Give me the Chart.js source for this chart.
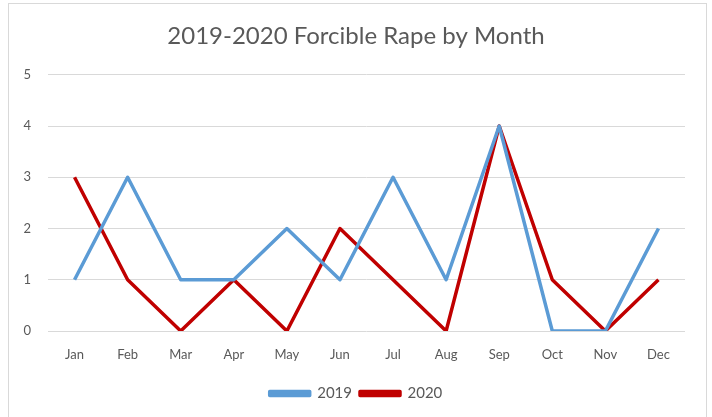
<!DOCTYPE html>
<html lang="en">
<head>
    <meta charset="UTF-8">
    <title>2019-2020 Forcible Rape by Month</title>
    <script src="https://cdn.jsdelivr.net/npm/chart.js"></script>
    <style>
        body {
            margin: 0;
            background: #ffffff;
            font-family: Lato, "Open Sans", sans-serif;
        }
        .frame {
            position: absolute;
            left: 8px;
            top: 3px;
            width: 697px;
            height: 420px;
            border: 1px solid #d9d9d9;
        }
        .wrap {
            position: absolute;
            left: 0;
            top: 0;
            width: 712px;
            height: 417px;
        }
    </style>
</head>
<body>
    <div class="frame"></div>
    <div class="wrap"><canvas id="chart" width="712" height="417"></canvas></div>

    <script>
        // chart data
        const months = ['Jan', 'Feb', 'Mar', 'Apr', 'May', 'Jun', 'Jul', 'Aug', 'Sep', 'Oct', 'Nov', 'Dec'];
        const values2019 = [1, 3, 1, 1, 2, 1, 3, 1, 4, 0, 0, 2];
        const values2020 = [3, 1, 0, 1, 0, 2, 1, 0, 4, 1, 0, 1];
        const yTicks = [0, 1, 2, 3, 4, 5];

        const blue = '#5b9bd5';
        const red = '#c00000';
        const textColor = '#595959';

        const ctx = document.getElementById('chart').getContext('2d');
        new Chart(ctx, {
            type: 'line',
            data: {
                labels: months,
                datasets: [
                    {
                        label: '2019',
                        data: values2019,
                        borderColor: blue,
                        backgroundColor: blue,
                        borderWidth: 3.5,
                        borderJoinStyle: 'round',
                        pointRadius: 0,
                        tension: 0
                    },
                    {
                        label: '2020',
                        data: values2020,
                        borderColor: red,
                        backgroundColor: red,
                        borderWidth: 3.5,
                        borderJoinStyle: 'round',
                        pointRadius: 0,
                        tension: 0
                    }
                ]
            },
            options: {
                responsive: false,
                animation: false,
                layout: {
                    padding: { left: 0, right: 0, top: 0, bottom: 6 }
                },
                plugins: {
                    title: {
                        display: true,
                        text: '2019-2020 Forcible Rape by Month',
                        color: textColor,
                        font: { family: 'Lato', size: 24, weight: 'normal' },
                        padding: { top: 22, bottom: 24 }
                    },
                    legend: {
                        position: 'bottom',
                        labels: {
                            color: textColor,
                            font: { family: 'Lato', size: 15 },
                            boxWidth: 40,
                            boxHeight: 4,
                            padding: 8
                        }
                    },
                    tooltip: { enabled: false }
                },
                scales: {
                    x: {
                        offset: true,
                        grid: { display: false },
                        border: { display: false },
                        ticks: {
                            color: textColor,
                            font: { family: 'Lato', size: 13 },
                            padding: 8
                        },
                        afterFit: function(scale) {
                            scale.height = 47;
                        }
                    },
                    y: {
                        min: 0,
                        max: 5,
                        afterBuildTicks: function(scale) {
                            scale.ticks = yTicks.map(v => ({ value: v }));
                        },
                        grid: { color: '#d9d9d9', drawTicks: false },
                        border: { display: false },
                        ticks: {
                            color: textColor,
                            font: { family: 'Lato', size: 13 },
                            padding: 17
                        },
                        afterFit: function(scale) {
                            scale.width = 48;
                        }
                    },
                    // empty right-hand spacer so the legend centres on the whole frame
                    spacer: {
                        type: 'linear',
                        position: 'right',
                        grid: { display: false },
                        border: { display: false },
                        ticks: { display: false },
                        afterFit: function(scale) {
                            scale.width = 27;
                        }
                    }
                }
            }
        });
    </script>
</body>
</html>
